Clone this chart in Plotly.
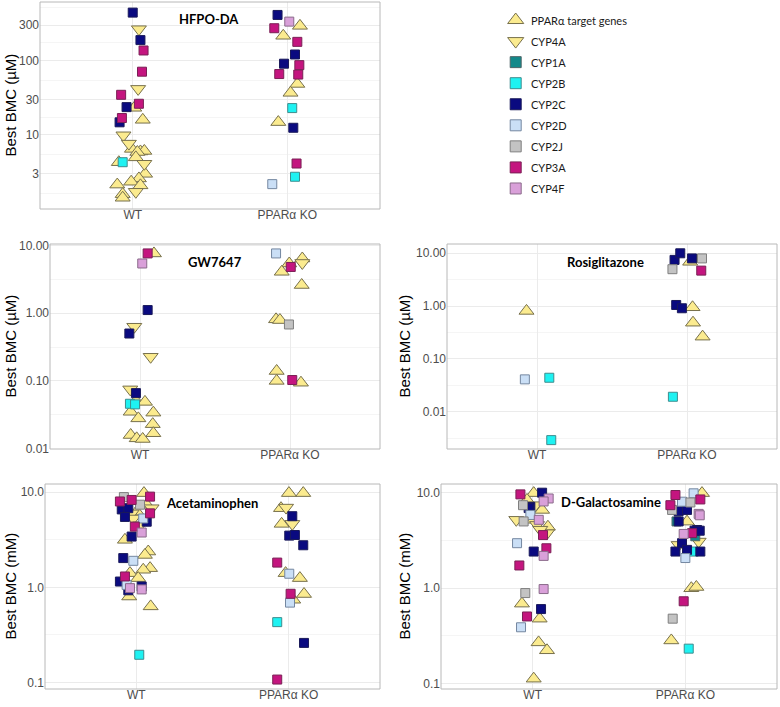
import math
import plotly.graph_objects as go

# gene groups (legend order) and the two genotypes on the x axis
GENES = ["T", "4A", "1A", "2B", "2C", "2D", "2J", "3A", "4F"]
GENE_LABELS = ["PPARα target genes", "CYP4A", "CYP1A", "CYP2B", "CYP2C",
               "CYP2D", "CYP2J", "CYP3A", "CYP4F"]
GENOTYPES = ["WT", "PPARα KO"]

# HFPO-DA, best BMC in uM (jit = horizontal jitter)
hfpo_wt_gene = ["2C", "4A", "2C", "3A", "3A", "4A", "3A", "T", "3A", "2C", "T", "3A", "2C", "4A", "4A", "T",
                "T", "T", "T", "T", "4A", "T", "2B", "T", "T", "T", "T", "T", "4A", "T", "T"]
hfpo_wt_bmc = [443, 265, 189, 137, 71, 41.7, 34.7, 23.2, 26.3, 23.7, 16, 16.9, 14.8, 9.9, 7.65, 6.5,
               6.0, 6.1, 5.9, 5.0, 4.1, 4.3, 4.3, 3.0, 2.6, 2.35, 2.15, 2.1, 1.72, 1.6, 1.43]
hfpo_wt_jit = [0.0, 0.04, 0.05, 0.07, 0.06, 0.035, -0.075, 0.01, 0.04, -0.04, 0.065, -0.07, -0.085, -0.06, -0.025, -0.005,
               0.05, 0.075, 0.03, 0.02, 0.075, -0.09, -0.065, 0.08, 0.04, -0.01, -0.1, 0.05, 0.02, -0.065, -0.065]
hfpo_ko_gene = ["2C", "4F", "3A", "T", "T", "3A", "2C", "2C", "3A", "3A", "3A", "T", "T", "2B", "T", "2C",
                "3A", "2B", "2D"]
hfpo_ko_bmc = [412, 335, 273, 294, 216, 179, 121, 91, 87, 66, 65, 48.6, 36.9, 23, 14.9, 12.5, 4.13, 2.74, 2.18]
hfpo_ko_jit = [-0.063, 0.013, -0.084, 0.082, -0.026, 0.065, 0.05, -0.021, 0.078, -0.052, 0.071, 0.065, 0.021,
               0.032, -0.058, 0.039, 0.06, 0.05, -0.097]

# GW7647, uM
gw_wt_gene = ["3A", "T", "4F", "2C", "4A", "2C", "4A", "4A", "2C", "2B", "2B", "T", "T", "T", "T", "T",
              "T", "T", "T", "T", "T"]
gw_wt_bmc = [7.6, 7.6, 5.4, 1.11, 0.63, 0.50, 0.227, 0.075, 0.066, 0.046, 0.045, 0.051, 0.049, 0.035, 0.034,
             0.028, 0.023, 0.0159, 0.0142, 0.0139, 0.0169]
gw_wt_jit = [0.051, 0.093, 0.015, 0.051, -0.038, -0.071, 0.071, -0.065, -0.027, -0.067, -0.033, -0.027, 0.033,
             -0.062, 0.089, -0.011, 0.085, -0.062, -0.022, 0.018, 0.089]
gw_ko_gene = ["2D", "T", "3A", "T", "T", "4A", "T", "T", "T", "2J", "T", "T", "3A", "T"]
gw_ko_bmc = [7.6, 5.4, 4.8, 4.07, 6.4, 5.5, 2.6, 0.81, 0.79, 0.68, 0.14, 0.10, 0.103, 0.094]
gw_ko_jit = [-0.093, -0.005, 0.005, -0.055, 0.082, 0.082, 0.078, -0.093, -0.067, -0.007, -0.089, -0.089,
             0.015, 0.073]

# Rosiglitazone, uM
rosi_wt_gene = ["T", "2D", "2B", "2B"]
rosi_wt_bmc = [0.81, 0.041, 0.044, 0.0029]
rosi_wt_jit = [-0.07, -0.081, 0.082, 0.095]
rosi_ko_gene = ["2C", "2C", "2C", "T", "2J", "2J", "3A", "2C", "2C", "T", "T", "T", "2B"]
rosi_ko_bmc = [7.5, 10, 8.0, 6.9, 8.0, 5.0, 4.7, 1.05, 0.91, 0.95, 0.485, 0.264, 0.0192]
rosi_ko_jit = [-0.083, -0.045, 0.033, 0.021, 0.1, -0.097, 0.095, -0.072, -0.034, 0.037, 0.04, 0.104, -0.094]

# Acetaminophen, mM
apap_wt_gene = ["T", "2J", "3A", "3A", "3A", "T", "2J", "4A", "2C", "2C", "4A", "3A", "T", "2C", "2D", "4A",
                "2C", "3A", "4A", "4F", "2C", "T", "2C", "T", "T", "2D", "T", "T", "3A", "T", "T", "2C",
                "2C", "2D", "4F", "2C", "4F", "T", "T", "2B"]
apap_wt_bmc = [9.8, 8.9, 8.3, 8.0, 9.0, 7.4, 7.4, 6.8, 6.6, 6.8, 6.0, 6.0, 6.25, 5.5, 5.3, 5.3,
               4.9, 4.35, 4.5, 3.77, 3.42, 3.16, 2.03, 2.38, 2.19, 1.9, 1.59, 1.53, 1.3, 1.41, 1.25, 1.15,
               1.02, 1.06, 0.98, 0.93, 0.95, 0.80, 0.63, 0.195]
apap_wt_jit = [0.05, -0.082, -0.031, -0.108, 0.09, 0.068, 0.024, 0.1, -0.096, -0.053, -0.031, 0.09, 0.002,
               -0.075, 0.045, -0.02, 0.068, -0.01, 0.024, 0.035, -0.031, -0.075, -0.086, 0.078, 0.056, -0.02,
               0.09, 0.045, -0.075, -0.042, 0.012, -0.108, 0.035, -0.064, -0.042, -0.053, 0.035, -0.047,
               0.094, 0.019]
apap_ko_gene = ["T", "T", "T", "4A", "2C", "T", "4A", "2C", "2C", "2C", "3A", "T", "2D", "T", "3A", "T",
                "T", "2D", "2B", "2C", "3A"]
apap_ko_bmc = [9.8, 9.8, 6.8, 6.9, 5.6, 4.65, 4.65, 3.5, 3.55, 2.77, 1.82, 1.41, 1.39, 1.25, 0.855, 0.85,
               0.74, 0.69, 0.43, 0.26, 0.107]
apap_ko_jit = [0.002, 0.096, -0.05, -0.017, 0.024, -0.046, 0.024, 0.004, 0.041, 0.096, -0.075, -0.02, 0.004,
               0.074, 0.013, 0.101, 0.03, 0.009, -0.075, 0.101, -0.075]

# D-Galactosamine, mM
dgal_wt_gene = ["3A", "T", "2C", "4F", "2J", "T", "4A", "2C", "4F", "T", "2D", "2C", "4A", "T", "4F", "4A",
                "2J", "T", "4A", "3A", "4A", "2D", "2C", "3A", "4F", "3A", "2J", "4F", "T", "2C", "3A", "T",
                "2D", "T", "T", "T"]
dgal_wt_bmc = [9.6, 9.9, 10.0, 8.7, 7.4, 8.4, 7.4, 7.1, 8.1, 6.6, 5.85, 6.9, 5.2, 5.2, 5.2, 4.6,
               5.0, 4.4, 3.77, 3.6, 4.1, 2.96, 2.42, 2.62, 2.18, 1.73, 0.89, 0.98, 0.69, 0.605, 0.506, 0.48,
               0.39, 0.271, 0.224, 0.113]
dgal_wt_jit = [-0.08, 0.007, 0.062, 0.105, -0.063, -0.037, 0.018, -0.015, 0.072, 0.062, -0.015, -0.026, -0.107,
               0.007, 0.04, 0.029, -0.059, 0.1, 0.094, 0.068, 0.05, -0.102, 0.007, 0.09, 0.072, -0.087, -0.048,
               0.072, -0.07, 0.055, -0.037, 0.046, -0.076, 0.039, 0.094, 0.007]
dgal_ko_gene = ["2D", "T", "3A", "3A", "2D", "2J", "3A", "2J", "2C", "2C", "4F", "4F", "1A", "2C", "T", "2C",
                "2C", "2C", "3A", "4F", "1A", "4A", "4A", "2C", "2C", "2C", "2B", "2C", "2D", "T", "T", "3A",
                "2J", "T", "2B"]
dgal_ko_bmc = [9.85, 9.9, 9.46, 8.5, 8.05, 7.9, 7.4, 6.6, 6.4, 6.6, 6.0, 5.8, 5.0, 5.0, 4.98, 4.07,
               4.0, 4.0, 3.77, 3.7, 3.5, 3.08, 2.84, 2.96, 2.42, 2.52, 2.42, 2.42, 2.07, 1.0, 1.03, 0.73,
               0.48, 0.284, 0.233]
dgal_ko_jit = [0.054, 0.109, -0.065, 0.098, -0.022, 0.033, -0.098, -0.087, -0.044, 0.011, 0.087, 0.094, -0.058,
               -0.044, 0.011, 0.077, 0.06, 0.094, 0.044, -0.011, 0.065, 0.087, -0.044, -0.022, -0.065, 0.011,
               0.054, 0.098, 0.0, 0.039, 0.072, -0.011, -0.083, -0.092, 0.022]

# marker look per gene group
STYLE = {
    "T":  dict(symbol="triangle-up", size=13, color="#FBEB8F", line=dict(color="#77704C", width=1)),
    "4A": dict(symbol="triangle-down", size=13, color="#FBEB8F", line=dict(color="#77704C", width=1)),
    "1A": dict(symbol="square", size=9, color="#12898A", line=dict(color="#4F6668", width=1)),
    "2B": dict(symbol="square", size=9, color="#1EF2F2", line=dict(color="#3E8C8E", width=1)),
    "2C": dict(symbol="square", size=9, color="#0A0A80", line=dict(color="#1A1A5A", width=1)),
    "2D": dict(symbol="square", size=9, color="#CADFF6", line=dict(color="#7487A0", width=1)),
    "2J": dict(symbol="square", size=9, color="#C3C3C3", line=dict(color="#7F7F7F", width=1)),
    "3A": dict(symbol="square", size=9, color="#C4157F", line=dict(color="#7A2055", width=1)),
    "4F": dict(symbol="square", size=9, color="#D9A0D9", line=dict(color="#8A6A8A", width=1)),
}

panels = [
    dict(title="HFPO-DA", unit="Best BMC (µM)",
         groups=[(hfpo_wt_gene, hfpo_wt_bmc, hfpo_wt_jit), (hfpo_ko_gene, hfpo_ko_bmc, hfpo_ko_jit)],
         ticks=[3, 10, 30, 100, 300], labels=["3", "10", "30", "100", "300"],
         yr=[0.004, 2.789], box=(40, 380, 2, 209), title_xy=(209, 19), ytitle_x=10),
    dict(title="GW7647", unit="Best BMC (µM)",
         groups=[(gw_wt_gene, gw_wt_bmc, gw_wt_jit), (gw_ko_gene, gw_ko_bmc, gw_ko_jit)],
         ticks=[0.01, 0.1, 1, 10], labels=["0.01", "0.10", "1.00", "10.00"],
         yr=[-2.005, 1.02], box=(50, 380, 244, 449), title_xy=(215, 262), ytitle_x=10),
    dict(title="Rosiglitazone", unit="Best BMC (µM)",
         groups=[(rosi_wt_gene, rosi_wt_bmc, rosi_wt_jit), (rosi_ko_gene, rosi_ko_bmc, rosi_ko_jit)],
         ticks=[0.01, 0.1, 1, 10], labels=["0.01", "0.10", "1.00", "10.00"],
         yr=[-2.706, 1.176], box=(447, 777, 244, 449), title_xy=(605, 262), ytitle_x=404),
    dict(title="Acetaminophen", unit="Best BMC (mM)",
         groups=[(apap_wt_gene, apap_wt_bmc, apap_wt_jit), (apap_ko_gene, apap_ko_bmc, apap_ko_jit)],
         ticks=[0.1, 1, 10], labels=["0.1", "1.0", "10.0"],
         yr=[-1.07, 1.087], box=(45, 380, 484, 689), title_xy=(212, 503), ytitle_x=10),
    dict(title="D-Galactosamine", unit="Best BMC (mM)",
         groups=[(dgal_wt_gene, dgal_wt_bmc, dgal_wt_jit), (dgal_ko_gene, dgal_ko_bmc, dgal_ko_jit)],
         ticks=[0.1, 1, 10], labels=["0.1", "1.0", "10.0"],
         yr=[-1.055, 1.091], box=(441, 777, 484, 689), title_xy=(611, 502), ytitle_x=404),
]

W, H = 780, 707
FRAME = "#B8B8B8"
TICKFONT = dict(family="Liberation Sans, Arial", size=12, color="#4D4D4D")
fig = go.Figure()
annotations, shapes = [], []


def minor_breaks(ticks, yr):
    # ggplot style: midway between major breaks (log space), extended one step each side
    lg = [math.log10(t) for t in ticks]
    mids = [(a + b) / 2 for a, b in zip(lg[:-1], lg[1:])]
    mids = [lg[0] - (lg[1] - lg[0]) / 2] + mids + [lg[-1] + (lg[-1] - lg[-2]) / 2]
    return [10 ** m for m in mids if yr[0] < m < yr[1]]


for i, p in enumerate(panels, start=1):
    suffix = "" if i == 1 else str(i)
    xa, ya = "x" + suffix, "y" + suffix
    for g in GENES:
        xs, ys = [], []
        for k, (genes, bmc, jit) in enumerate(p["groups"]):
            for gg, v, j in zip(genes, bmc, jit):
                if gg == g:
                    xs.append(k + j)
                    ys.append(v)
        if xs:
            fig.add_trace(go.Scatter(x=xs, y=ys, mode="markers", marker=STYLE[g],
                                     xaxis=xa, yaxis=ya, showlegend=False, hoverinfo="y"))
    x0, x1, y0, y1 = p["box"]
    # x labels sit close under the panel, so the x axis floats a few px above the frame
    fig.layout["xaxis" + suffix] = dict(
        domain=[x0 / W, x1 / W], anchor="free", position=1 - (y1 - 3) / H,
        range=[-0.6, 1.6], automargin=False,
        tickvals=[0, 1], ticktext=GENOTYPES, showgrid=True, gridcolor="#EBEBEB",
        zeroline=False, showline=False, ticks="", tickfont=TICKFONT)
    fig.layout["yaxis" + suffix] = dict(
        domain=[1 - y1 / H, 1 - y0 / H], anchor=xa, type="log", range=p["yr"], automargin=False,
        tickvals=p["ticks"], ticktext=p["labels"], showgrid=True, gridcolor="#EBEBEB",
        minor=dict(tickmode="array", tickvals=minor_breaks(p["ticks"], p["yr"]),
                   showgrid=True, gridcolor="#F5F5F5", ticks=""),
        zeroline=False, showline=False, ticks="", tickfont=TICKFONT)
    shapes.append(dict(type="rect", xref=xa + " domain", yref=ya + " domain", x0=0, x1=1, y0=0, y1=1,
                       line=dict(color=FRAME, width=1), layer="above"))
    tx, ty = p["title_xy"]
    annotations.append(dict(text="<b>%s</b>" % p["title"], x=tx / W, y=1 - ty / H,
                            xref="paper", yref="paper", xanchor="center", yanchor="middle",
                            showarrow=False, font=dict(family="Lato", size=13, color="#000000")))
    annotations.append(dict(text=p["unit"], x=p["ytitle_x"] / W, y=1 - (y0 + y1) / 2 / H,
                            xref="paper", yref="paper", xanchor="center", yanchor="middle",
                            showarrow=False, textangle=-90,
                            font=dict(family="Liberation Sans, Arial", size=15, color="#000000")))

# legend drawn in its own small axes (1 unit = 1 px across, one row per gene)
LEG = dict(x0=505, x1=760, y0=9.5, y1=199)
for r, g in enumerate(GENES):
    st = dict(STYLE[g])
    st["size"] = 14 if g in ("T", "4A") else 11
    fig.add_trace(go.Scatter(x=[10.7], y=[r], mode="markers", marker=st,
                             xaxis="x6", yaxis="y6", showlegend=False, hoverinfo="skip"))
    annotations.append(dict(text=GENE_LABELS[r], x=24, y=r, xref="x6", yref="y6",
                            xanchor="left", yanchor="middle", showarrow=False,
                            font=dict(family="Lato", size=11, color="#1A1A1A")))
fig.layout["xaxis6"] = dict(domain=[LEG["x0"] / W, LEG["x1"] / W], range=[0, LEG["x1"] - LEG["x0"]],
                            visible=False, anchor="y6", fixedrange=True, automargin=False)
fig.layout["yaxis6"] = dict(domain=[1 - LEG["y1"] / H, 1 - LEG["y0"] / H], range=[len(GENES) - 0.5, -0.5],
                            visible=False, anchor="x6", fixedrange=True, automargin=False)

fig.update_layout(width=W, height=H, margin=dict(l=0, r=0, t=0, b=0),
                  paper_bgcolor="white", plot_bgcolor="white",
                  annotations=annotations, shapes=shapes, showlegend=False)
# drop the page's default 8px body margin so the 780x707 figure fills the window
fig.write_html("out.html", config={"displayModeBar": False},
               post_script="document.body.style.margin='0';document.body.style.overflow='hidden';")
